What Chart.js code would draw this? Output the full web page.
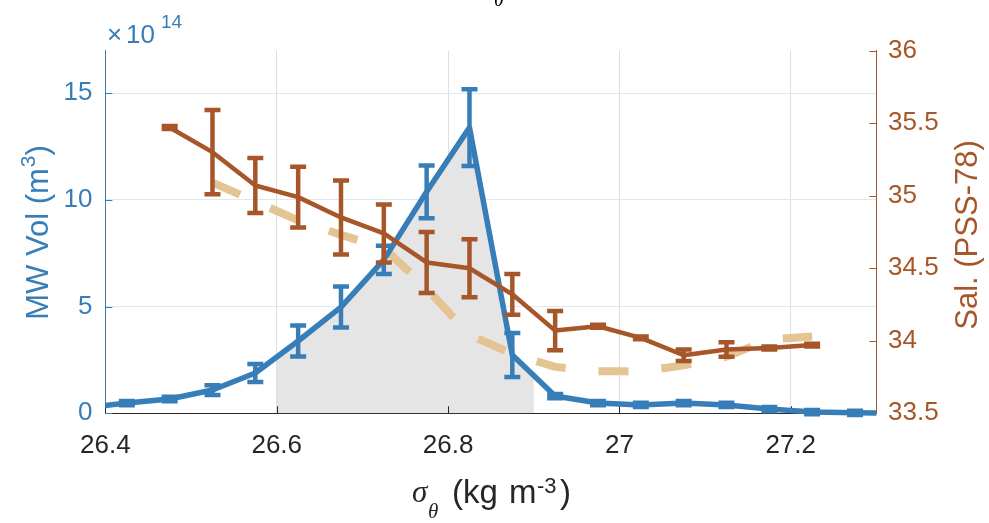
<!DOCTYPE html>
<html>
<head>
<meta charset="utf-8">
<script src="https://cdn.jsdelivr.net/npm/chart.js@4/dist/chart.umd.min.js"></script>
<style>
  html, body { margin: 0; padding: 0; background: #ffffff; }
  #wrap { width: 989px; height: 523px; }
</style>
</head>
<body>
<div id="wrap"><canvas id="c" width="989" height="523"></canvas></div>
<script>
// Mode-water volume per density bin (x 10^14 m^3) and its uncertainty
const volSigma = [26.375, 26.425, 26.475, 26.525, 26.575, 26.625, 26.675, 26.725, 26.775, 26.825,
                  26.875, 26.925, 26.975, 27.025, 27.075, 27.125, 27.175, 27.225, 27.275, 27.325];
const volume    = [0.25, 0.48, 0.67, 1.09, 1.89, 3.39, 4.98, 7.19, 10.38, 13.39,
                   2.73, 0.81, 0.48, 0.39, 0.48, 0.39, 0.20, 0.06, 0.02, 0.00];
const volumeErr = [0.10, 0.10, 0.10, 0.23, 0.42, 0.73, 0.96, 0.66, 1.24, 1.80,
                   1.03, 0.10, 0.10, 0.10, 0.10, 0.10, 0.10, 0.10, 0.10, 0.10];

// Mean salinity per density bin (PSS-78) and its uncertainty
const salSigma = [26.475, 26.525, 26.575, 26.625, 26.675, 26.725, 26.775, 26.825,
                  26.875, 26.925, 26.975, 27.025, 27.075, 27.125, 27.175, 27.225];
const salinity    = [35.47, 35.30, 35.07, 34.99, 34.85, 34.74, 34.54, 34.50,
                     34.32, 34.07, 34.10, 34.02, 33.90, 33.94, 33.95, 33.97];
const salinityErr = [0.01, 0.29, 0.19, 0.21, 0.255, 0.20, 0.21, 0.20,
                     0.14, 0.135, 0.01, 0.01, 0.04, 0.05, 0.01, 0.01];

// Reference salinity profile (dashed)
const refSigma = [26.525, 26.575, 26.625, 26.675, 26.725, 26.775, 26.825, 26.875,
                  26.925, 26.975, 27.025, 27.075, 27.125, 27.175, 27.225];
const refSalinity = [35.09, 34.96, 34.83, 34.73, 34.64, 34.36, 34.04, 33.91,
                     33.82, 33.79, 33.79, 33.83, 33.89, 34.01, 34.03];

// Axis ticks and labels
const xTicks = [26.4, 26.6, 26.8, 27, 27.2];
const xTickLabels = ['26.4', '26.6', '26.8', '27', '27.2'];
const volTicks = [0, 5, 10, 15];
const volTickLabels = ['0', '5', '10', '15'];
const salTicks = [33.5, 34, 34.5, 35, 35.5, 36];
const salTickLabels = ['33.5', '34', '34.5', '35', '35.5', '36'];

// Density band shaded under the volume curve
const shadeRange = [26.6, 26.9];

const BLUE = '#377eb8';
const BROWN = '#a65628';
const TAN = '#e5c494';
const INK = '#262626';
const SANS = '"Liberation Sans", Arial, Helvetica, sans-serif';
const SERIF = '"Liberation Serif", "Times New Roman", serif';

const toPoints = (xs, ys) => xs.map((x, i) => ({ x: x, y: ys[i] }));

// Grey fill under the volume curve, limited to the shaded density band
const shadePlugin = {
  id: 'shadeBand',
  beforeDatasetsDraw(chart) {
    const idx = chart.data.datasets.findIndex(d => d.shadeUnder);
    if (idx < 0) return;
    const meta = chart.getDatasetMeta(idx);
    const xs = chart.scales.x, ys = chart.scales.yVol;
    const a = chart.chartArea, ctx = chart.ctx;
    const x0 = xs.getPixelForValue(shadeRange[0]);
    const x1 = xs.getPixelForValue(shadeRange[1]);
    const base = ys.getPixelForValue(0);
    const pts = meta.data;
    ctx.save();
    ctx.beginPath();
    ctx.rect(x0, a.top, x1 - x0, a.bottom - a.top);
    ctx.clip();
    ctx.beginPath();
    ctx.moveTo(pts[0].x, base);
    pts.forEach(p => ctx.lineTo(p.x, p.y));
    ctx.lineTo(pts[pts.length - 1].x, base);
    ctx.closePath();
    ctx.fillStyle = '#e5e5e5';
    ctx.fill();
    ctx.restore();
  }
};

// Inward tick marks on the bottom, left and right axes
const tickMarkPlugin = {
  id: 'inwardTicks',
  beforeDatasetsDraw(chart) {
    const ctx = chart.ctx, a = chart.chartArea;
    const xs = chart.scales.x, yv = chart.scales.yVol, ysal = chart.scales.ySal;
    const len = 7;
    ctx.save();
    ctx.lineWidth = 1;
    ctx.strokeStyle = INK;
    ctx.beginPath();
    xTicks.forEach(v => {
      const x = Math.round(xs.getPixelForValue(v)) + 0.5;
      ctx.moveTo(x, a.bottom);
      ctx.lineTo(x, a.bottom - len);
    });
    ctx.stroke();
    ctx.strokeStyle = BLUE;
    ctx.beginPath();
    volTicks.forEach(v => {
      const y = Math.round(yv.getPixelForValue(v)) + 0.5;
      ctx.moveTo(a.left, y);
      ctx.lineTo(a.left + len, y);
    });
    ctx.stroke();
    ctx.strokeStyle = BROWN;
    ctx.beginPath();
    salTicks.forEach(v => {
      const y = Math.round(ysal.getPixelForValue(v)) + 0.5;
      ctx.moveTo(a.right, y);
      ctx.lineTo(a.right - len, y);
    });
    ctx.stroke();
    ctx.restore();
  }
};

// Vertical error bars with caps for datasets that carry an `errors` array
const errorBarPlugin = {
  id: 'errorBars',
  afterDatasetDraw(chart, args) {
    const ds = chart.data.datasets[args.index];
    if (!ds.errors) return;
    const ctx = chart.ctx, a = chart.chartArea;
    const xs = chart.scales.x, ys = chart.scales[ds.yAxisID];
    const cap = ds.capHalfWidth;
    ctx.save();
    ctx.beginPath();
    ctx.rect(a.left, a.top - 8, a.right - a.left, a.bottom - a.top + 16);
    ctx.clip();
    ctx.strokeStyle = ds.borderColor;
    ctx.lineWidth = ds.errorLineWidth;
    ctx.lineCap = 'butt';
    ds.data.forEach((p, i) => {
      const e = ds.errors[i];
      const x = xs.getPixelForValue(p.x);
      const yLo = ys.getPixelForValue(p.y - e);
      const yHi = ys.getPixelForValue(p.y + e);
      ctx.beginPath();
      ctx.moveTo(x, yLo); ctx.lineTo(x, yHi);
      ctx.moveTo(x - cap, yLo); ctx.lineTo(x + cap, yLo);
      ctx.moveTo(x - cap, yHi); ctx.lineTo(x + cap, yHi);
      ctx.stroke();
    });
    ctx.restore();
  }
};

// Axis titles, the exponent note and the heading fragment
const labelPlugin = {
  id: 'axisLabels',
  afterDraw(chart) {
    const ctx = chart.ctx;
    ctx.save();
    ctx.textAlign = 'left';
    ctx.textBaseline = 'alphabetic';

    // heading (only its lower edge falls inside the canvas)
    ctx.fillStyle = '#000000';
    ctx.font = 'italic 20px ' + SERIF;
    ctx.textAlign = 'center';
    ctx.fillText('θ', 499, 6);
    ctx.textAlign = 'left';

    // exponent note above the left axis
    ctx.fillStyle = BLUE;
    ctx.font = '26px ' + SANS;
    ctx.fillText('×', 107, 43);
    ctx.fillText('10', 126, 43);
    ctx.font = '19px ' + SANS;
    ctx.fillText('14', 161, 28);

    // left axis title: MW Vol (m^3)
    const fs = 31;
    ctx.save();
    ctx.translate(37, 233);
    ctx.rotate(-Math.PI / 2);
    ctx.font = fs + 'px ' + SANS;
    const t1 = 'MW Vol (m', t3 = ')';
    const w1 = ctx.measureText(t1).width;
    const w3 = ctx.measureText(t3).width;
    ctx.font = '21px ' + SANS;
    const w2 = ctx.measureText('3').width;
    let sx = -(w1 + w2 + w3) / 2;
    const by = 0.36 * fs;
    ctx.font = fs + 'px ' + SANS;
    ctx.fillText(t1, sx, by);
    ctx.font = '21px ' + SANS;
    ctx.fillText('3', sx + w1 + 1, by - 13);
    ctx.font = fs + 'px ' + SANS;
    ctx.fillText(t3, sx + w1 + w2 + 1, by);
    ctx.restore();

    // right axis title
    ctx.save();
    ctx.fillStyle = BROWN;
    ctx.translate(966, 235);
    ctx.rotate(-Math.PI / 2);
    ctx.font = fs + 'px ' + SANS;
    ctx.textAlign = 'center';
    ctx.fillText('Sal. (PSS-78)', 0, 0.36 * fs);
    ctx.restore();

    // x axis title: sigma_theta (kg m^-3)
    ctx.fillStyle = INK;
    ctx.font = 'italic 31px ' + SERIF;
    ctx.fillText('σ', 412, 502);
    ctx.font = 'italic 21px ' + SERIF;
    ctx.fillText('θ', 428, 518);
    ctx.font = '33px ' + SANS;
    ctx.fillText('(kg', 452, 503);
    ctx.fillText('m', 509, 503);
    ctx.font = '22px ' + SANS;
    ctx.fillText('-3', 537, 493);
    ctx.font = '33px ' + SANS;
    ctx.fillText(')', 560, 503);
    ctx.restore();
  }
};

const AREA = { left: 105.4, right: 876.4, top: 50.6, bottom: 413.3 };
const W = 989, H = 523;

new Chart(document.getElementById('c'), {
  type: 'line',
  data: {
    datasets: [
      {
        label: 'Salinity',
        data: toPoints(salSigma, salinity),
        yAxisID: 'ySal',
        borderColor: BROWN,
        borderWidth: 4.5,
        borderJoinStyle: 'round',
        pointRadius: 0,
        errors: salinityErr,
        errorLineWidth: 4.5,
        capHalfWidth: 8,
        clip: { left: 0, right: 0, top: 6, bottom: 6 },
        order: 1
      },
      {
        label: 'MW volume',
        data: toPoints(volSigma, volume),
        yAxisID: 'yVol',
        borderColor: BLUE,
        borderWidth: 5.5,
        borderJoinStyle: 'round',
        pointRadius: 0,
        errors: volumeErr,
        errorLineWidth: 4.5,
        capHalfWidth: 8,
        shadeUnder: true,
        clip: { left: 0, right: 0, top: 6, bottom: 6 },
        order: 2
      },
      {
        label: 'Reference salinity',
        data: toPoints(refSigma, refSalinity),
        yAxisID: 'ySal',
        borderColor: TAN,
        borderWidth: 8,
        borderDash: [30, 33],
        borderCapStyle: 'butt',
        pointRadius: 0,
        clip: { left: 0, right: 0, top: 6, bottom: 6 },
        order: 3
      }
    ]
  },
  options: {
    responsive: false,
    animation: false,
    devicePixelRatio: 1,
    layout: { padding: { top: AREA.top, left: 0, right: 0, bottom: 0 } },
    plugins: { legend: { display: false }, tooltip: { enabled: false } },
    elements: { line: { tension: 0 } },
    scales: {
      x: {
        type: 'linear',
        min: 26.4,
        max: 27.3,
        afterBuildTicks: s => { s.ticks = xTicks.map(v => ({ value: v })); },
        afterFit: s => { s.height = H - AREA.bottom; },
        ticks: {
          autoSkip: false,
          maxRotation: 0,
          padding: 17,
          color: INK,
          font: { family: SANS, size: 26 },
          callback: (v, i) => xTickLabels[i]
        },
        grid: {
          drawTicks: false,
          lineWidth: 1,
          color: c => (c.index === 0 ? 'rgba(0,0,0,0)' : '#dfdfdf')
        },
        border: { display: true, color: INK, width: 1 }
      },
      yVol: {
        type: 'linear',
        position: 'left',
        min: 0,
        max: 17,
        afterBuildTicks: s => { s.ticks = volTicks.map(v => ({ value: v })); },
        afterFit: s => { s.width = AREA.left; },
        ticks: {
          padding: 13,
          color: BLUE,
          font: { family: SANS, size: 26 },
          callback: (v, i) => volTickLabels[i]
        },
        grid: {
          drawTicks: false,
          lineWidth: 1,
          color: c => (c.index === 0 ? 'rgba(0,0,0,0)' : '#dde8f2')
        },
        border: { display: true, color: BLUE, width: 1 }
      },
      ySal: {
        type: 'linear',
        position: 'right',
        min: 33.5,
        max: 36,
        afterBuildTicks: s => { s.ticks = salTicks.map(v => ({ value: v })); },
        afterFit: s => { s.width = W - AREA.right; },
        ticks: {
          padding: 11.6,
          color: BROWN,
          font: { family: SANS, size: 26 },
          callback: (v, i) => salTickLabels[i]
        },
        grid: { drawOnChartArea: false, drawTicks: false },
        border: { display: true, color: BROWN, width: 1 }
      }
    }
  },
  plugins: [shadePlugin, tickMarkPlugin, errorBarPlugin, labelPlugin]
});
</script>
</body>
</html>
